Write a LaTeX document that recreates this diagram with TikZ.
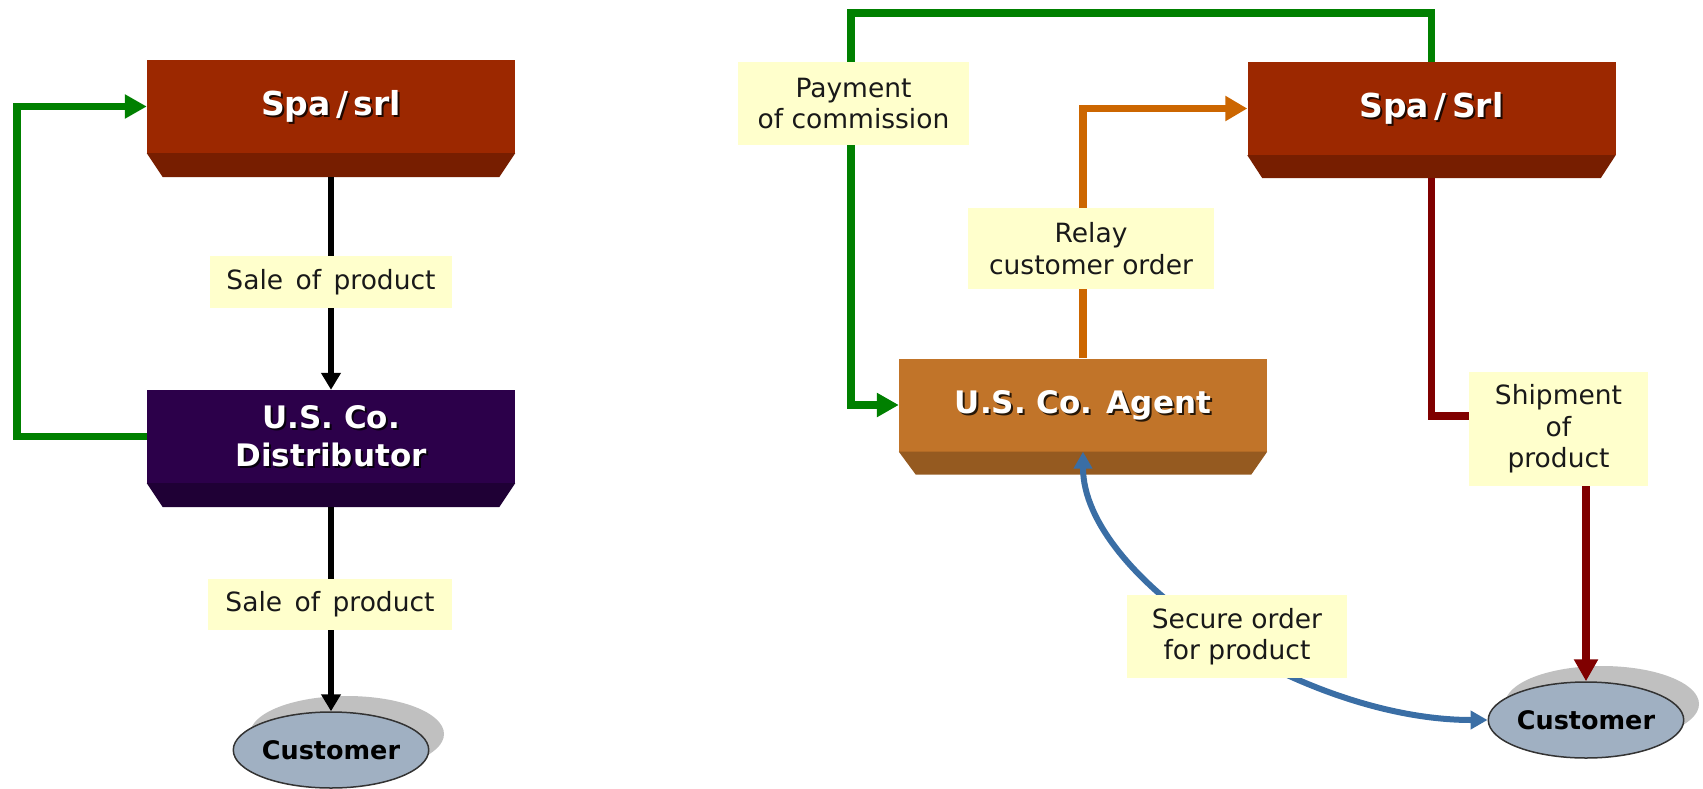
\documentclass[tikz,border=0pt]{standalone}
\usepackage{fontspec}
\setmainfont{DejaVu Sans}
\usetikzlibrary{arrows.meta,calc,shapes.geometric}
\definecolor{spaF}{HTML}{9C2800}
\definecolor{spaB}{HTML}{771E00}
\definecolor{disF}{HTML}{2C004A}
\definecolor{disB}{HTML}{1F0035}
\definecolor{ageF}{HTML}{C17429}
\definecolor{ageB}{HTML}{955A20}
\definecolor{lab}{HTML}{FFFFCC}
\definecolor{gArr}{HTML}{008000}
\definecolor{oArr}{HTML}{CC6600}
\definecolor{rArr}{HTML}{800000}
\definecolor{bArr}{HTML}{3A6EA5}
\definecolor{custF}{HTML}{A0B0C2}
\definecolor{shad}{HTML}{C0C0C0}
\tikzset{
  face/.style={minimum width=368pt, minimum height=93pt, inner sep=0pt, draw=none},
  boxtxt/.style={text=white, font=\fontsize{31}{38}\selectfont\bfseries, align=center, inner sep=0pt},
  boxshd/.style={text=black, text opacity=0.8, font=\fontsize{31}{38}\selectfont\bfseries, align=center, inner sep=0pt},
  bigtxt/.style={font=\fontsize{33}{38}\selectfont\bfseries},
  lbl/.style={fill=lab, inner sep=0pt, align=center, font=\fontsize{26.5}{31.5}\selectfont, text=black!90},
  custell/.style={ellipse, draw=black!80, line width=1.5pt, fill=custF, minimum width=194pt, minimum height=76pt, inner sep=0pt, font=\fontsize{25.5}{30}\selectfont\bfseries},
  custshd/.style={ellipse, fill=shad, minimum width=194pt, minimum height=76pt, inner sep=0pt},
  blkarr/.style={line width=6pt, draw=black, -{Triangle[width=19pt,length=17pt]}},
  garr/.style={line width=7.5pt, draw=gArr, -{Triangle[width=23pt,length=22pt]}},
  oarr/.style={line width=7.5pt, draw=oArr, -{Triangle[width=24pt,length=22pt]}},
  rline/.style={line width=7.5pt, draw=rArr},
  rarr/.style={line width=7.5pt, draw=rArr, -{Triangle[width=23pt,length=22pt]}},
  barr/.style={line width=6pt, draw=bArr, {Triangle[width=18pt,length=17pt]}-{Triangle[width=18pt,length=17pt]}},
}
\begin{document}
\begin{tikzpicture}[x=1pt,y=-1pt]
\useasboundingbox (0,0) rectangle (1703,788);

% customers
\node[custshd] (cust1s) at (347,734) {};
\node[custell] (cust1) at (331,750) {Customer};
\node[custshd] (cust2s) at (1602,704) {};
\node[custell] (cust2) at (1586,720) {Customer};

% boxes
\node[face, fill=spaF] (spa1) at (331,106.5) {};
\fill[spaB] (spa1.south west) -- (spa1.south east) -- ++(-16,24) -- ($(spa1.south west)+(16,24)$) -- cycle;
\node[face, fill=disF] (dist) at (331,436.5) {};
\fill[disB] (dist.south west) -- (dist.south east) -- ++(-16,24) -- ($(dist.south west)+(16,24)$) -- cycle;
\node[face, fill=ageF] (agent) at (1083,405) {};
\fill[ageB] (agent.south west) -- (agent.south east) -- ++(-16,23) -- ($(agent.south west)+(17,23)$) -- cycle;
\node[face, fill=spaF] (spa2) at (1431.5,108.5) {};
\fill[spaB] (spa2.south west) -- (spa2.south east) -- ++(-15,23) -- ($(spa2.south west)+(15,23)$) -- cycle;

\coordinate (spa1b) at ($(spa1.south)+(0,24)$);
\coordinate (distb) at ($(dist.south)+(0,24)$);
\coordinate (spa2b) at ($(spa2.south)+(0,23)$);

% box texts
\node[boxshd, bigtxt] (spa1ts) at ($(spa1.center)+(2,2)$) {Spa\,/\,srl};
\node[boxtxt, bigtxt] (spa1t) at (spa1.center) {Spa\,/\,srl};
\node[boxshd] (distts) at ($(dist.center)+(2,2)$) {U.S. Co.\\Distributor};
\node[boxtxt] (distt) at (dist.center) {U.S. Co.\\Distributor};
\node[boxshd] (agentts) at ($(agent.center)+(2,2)$) {U.S. Co. Agent};
\node[boxtxt] (agentt) at (agent.center) {U.S. Co. Agent};
\node[boxshd, bigtxt] (spa2ts) at ($(spa2.center)+(2,2)$) {Spa\,/\,Srl};
\node[boxtxt, bigtxt] (spa2t) at (spa2.center) {Spa\,/\,Srl};

% connectors left
\draw[blkarr] (spa1b) -- (dist.north);
\draw[blkarr] (distb) -- (cust1.north);
\coordinate (gL) at (17,0);
\draw[garr] (dist.west) -- (dist.west -| gL) |- (spa1.west);

% connectors right
\coordinate (gT) at (851,13);
\draw[garr] (spa2.north) |- (gT) |- (agent.west);
\draw[oarr] (agent.north) |- (spa2.west);
\coordinate (rJ) at (0,416);
\node[lbl, minimum width=179pt, minimum height=114pt] (ship) at (1558.5,429) {Shipment\\of\\product};
\draw[rline] (spa2b) -- (spa2b |- rJ) -- (ship.west |- rJ);
\draw[rarr] (ship.south -| cust2.north) -- (cust2.north);
\draw[barr] (agent.south) .. controls +(0,125) and +(-185,0) .. (cust2.west);

% labels
\node[lbl, minimum width=242pt, minimum height=52pt] (sale1) at (331,282) {Sale\hspace{4pt} of\hspace{4pt} product};
\node[lbl, minimum width=244pt, minimum height=51pt] (sale2) at (330,604.5) {Sale\hspace{4pt} of\hspace{4pt} product};
\node[lbl, minimum width=231pt, minimum height=83pt] (pay) at (853.5,103.5) {Payment\\of commission};
\node[lbl, minimum width=246pt, minimum height=81pt] (relay) at (1091,248.5) {Relay\\customer order};
\node[lbl, minimum width=220pt, minimum height=83pt] (secure) at (1237,636.5) {Secure order\\for product};
\end{tikzpicture}
\end{document}
